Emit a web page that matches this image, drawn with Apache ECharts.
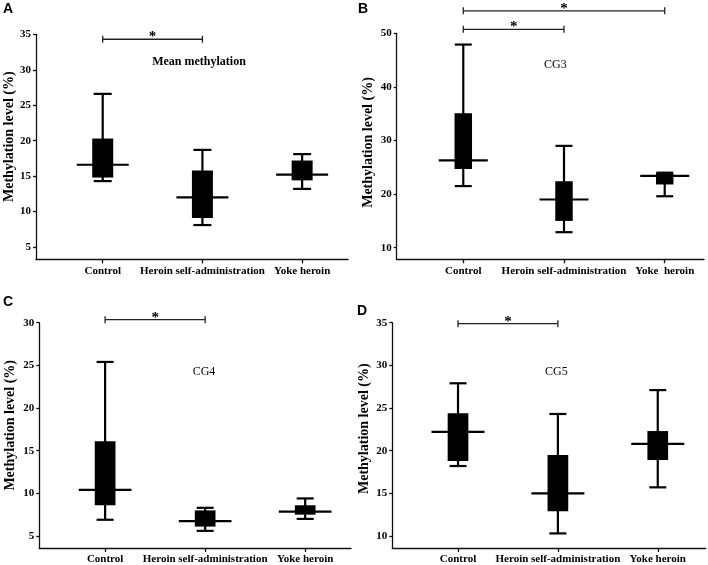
<!DOCTYPE html>
<html><head><meta charset="utf-8">
<script src="https://cdn.jsdelivr.net/npm/echarts@6/dist/echarts.min.js"></script>
<style>html,body{margin:0;padding:0;background:#fff}#c{width:708px;height:565px}</style>
</head><body><div id="c"></div>
<script>
// ---- data ----
const categories = ['Control', 'Heroin self-administration', 'Yoke heroin'];
const categoriesB = ['Control', 'Heroin self-administration', 'Yoke  heroin'];
const catPos = [1, 2, 3];
// [min, Q1, median, Q3, max]
const meanMethylation = [[14.3, 14.8, 16.6, 20.3, 26.6], [8.1, 9.1, 12.0, 15.8, 18.7], [13.2, 14.4, 15.2, 17.2, 18.1]];
const cg3 = [[21.5, 24.7, 26.3, 35.1, 47.9], [12.9, 15.0, 19.0, 22.4, 29.0], [19.6, 21.8, 23.4, 23.9, 24.0]];
const cg4 = [[6.9, 8.6, 10.4, 16.1, 25.4], [5.6, 6.1, 6.75, 8.0, 8.3], [7.0, 7.5, 7.85, 8.6, 9.4]];
const cg5 = [[18.2, 18.8, 22.2, 24.4, 27.9], [10.3, 12.9, 15.0, 19.5, 24.3], [15.7, 18.9, 20.8, 22.3, 27.1]];
const ticksA = [5, 10, 15, 20, 25, 30, 35];
const ticksB = [10, 20, 30, 40, 50];
const ticksC = [5, 10, 15, 20, 25, 30];
const ticksD = [10, 15, 20, 25, 30, 35];
// significance brackets: [from category, to category, level]
const sigA = [[1, 2, 34.3]];
const sigB = [[1, 2, 50.75], [1, 3, 54.2]];
const sigC = [[1, 2, 30.35]];
const sigD = [[1, 2, 34.88]];
const panelTitles = ['Mean methylation', 'CG3', 'CG4', 'CG5'];
const panelLetters = ['A', 'B', 'C', 'D'];
const yName = 'Methylation level (%)';

// ---- chart ----
const SERIF = '"Liberation Serif","Times New Roman",serif';
const SANS = '"Liberation Sans",Arial,sans-serif';
const chart = echarts.init(document.getElementById('c'));

const panels = [
  {grid: {left: 36, right: 360, top: 34.3, bottom: 305.5}, ymin: 3.24, ymax: 35, xmin: 0.331, xmax: 3.46, ticks: ticksA, data: meanMethylation, sig: sigA, cats: categories, boxW: 21, medW: 52, capW: 18},
  {grid: {left: 396.7, right: 4, top: 33.3, bottom: 305.7}, ymin: 7.84, ymax: 50, xmin: 0.339, xmax: 3.39, ticks: ticksB, data: cg3, sig: sigB, cats: categoriesB, boxW: 17.5, medW: 49, capW: 17},
  {grid: {left: 39.3, right: 357, top: 322.7, bottom: 17}, ymin: 3.59, ymax: 30, xmin: 0.342, xmax: 3.458, ticks: ticksC, data: cg4, sig: sigC, cats: categories, boxW: 20.7, medW: 52.7, capW: 17},
  {grid: {left: 392.3, right: 2.3, top: 322.7, bottom: 17}, ymin: 8.59, ymax: 35, xmin: 0.342, xmax: 3.48, ticks: ticksD, data: cg5, sig: sigD, cats: categories, boxW: 20.7, medW: 53, capW: 17}
];

const axisLineStyle = {color: '#111', width: 1.3};
const grids = [], xAxes = [], yAxes = [], series = [];
panels.forEach((p, i) => {
  grids.push(Object.assign({containLabel: false}, p.grid));
  xAxes.push({
    gridIndex: i, type: 'value', min: p.xmin, max: p.xmax,
    axisLine: {show: true, onZero: false, lineStyle: axisLineStyle},
    splitLine: {show: false},
    axisTick: {show: true, customValues: catPos, length: 4, lineStyle: axisLineStyle},
    axisLabel: {customValues: catPos, formatter: v => p.cats[Math.round(v) - 1], fontFamily: SERIF, fontWeight: 'bold', fontSize: 11, color: '#000', margin: 6}
  });
  yAxes.push({
    gridIndex: i, type: 'value', min: p.ymin, max: p.ymax,
    axisLine: {show: true, onZero: false, lineStyle: axisLineStyle},
    splitLine: {show: false},
    axisTick: {show: true, customValues: p.ticks, length: 3, lineStyle: axisLineStyle},
    axisLabel: {customValues: p.ticks, fontFamily: SERIF, fontWeight: 'bold', fontSize: 11, color: '#000', margin: 5}
  });
  const boxData = p.data.map((d, k) => [catPos[k]].concat(d));
  series.push({
    type: 'custom', xAxisIndex: i, yAxisIndex: i, clip: false,
    data: boxData,
    encode: {x: 0, y: [1, 2, 3, 4, 5]},
    renderItem: (params, api) => {
      const x = api.value(0);
      const lo = api.coord([x, api.value(1)]);
      const q1 = api.coord([x, api.value(2)]);
      const md = api.coord([x, api.value(3)]);
      const q3 = api.coord([x, api.value(4)]);
      const hi = api.coord([x, api.value(5)]);
      const cx = lo[0];
      const st = {stroke: '#000', lineWidth: 2.2};
      return {type: 'group', children: [
        {type: 'line', shape: {x1: cx, y1: hi[1], x2: cx, y2: lo[1]}, style: st},
        {type: 'line', shape: {x1: cx - p.capW / 2, y1: hi[1], x2: cx + p.capW / 2, y2: hi[1]}, style: st},
        {type: 'line', shape: {x1: cx - p.capW / 2, y1: lo[1], x2: cx + p.capW / 2, y2: lo[1]}, style: st},
        {type: 'rect', shape: {x: cx - p.boxW / 2, y: q3[1], width: p.boxW, height: q1[1] - q3[1]}, style: {fill: '#000'}},
        {type: 'line', shape: {x1: cx - p.medW / 2, y1: md[1], x2: cx + p.medW / 2, y2: md[1]}, style: st}
      ]};
    }
  });
  series.push({
    type: 'custom', xAxisIndex: i, yAxisIndex: i, clip: false, silent: true,
    data: p.sig,
    encode: {x: [0, 1], y: 2},
    renderItem: (params, api) => {
      const a = api.coord([api.value(0), api.value(2)]);
      const b = api.coord([api.value(1), api.value(2)]);
      const st = {stroke: '#222', lineWidth: 1.3};
      return {type: 'group', children: [
        {type: 'line', shape: {x1: a[0], y1: a[1], x2: b[0], y2: b[1]}, style: st},
        {type: 'line', shape: {x1: a[0], y1: a[1] - 3.5, x2: a[0], y2: a[1] + 3.5}, style: st},
        {type: 'line', shape: {x1: b[0], y1: b[1] - 3.5, x2: b[0], y2: b[1] + 3.5}, style: st},
        {type: 'text', x: (a[0] + b[0]) / 2, y: a[1] - 2, style: {text: '*', fontFamily: SERIF, fontWeight: 'bold', fontSize: 15, fill: '#000', align: 'center', verticalAlign: 'middle'}}
      ]};
    }
  });
});

const titlePos = [[199, 62.3, 'bold'], [555.3, 65.3, 'normal'], [204, 372, 'normal'], [556.3, 372, 'normal']];
const letterPos = [[3, 2], [358, 2], [3, 295], [357, 304]];
const namePos = [[9, 136.7], [368, 142.5], [10, 425.3], [364, 428.7]];
const graphic = [];
panels.forEach((p, i) => {
  graphic.push({type: 'text', x: titlePos[i][0], y: titlePos[i][1], style: {text: panelTitles[i], fontFamily: SERIF, fontWeight: titlePos[i][2], fontSize: 12, fill: '#000', align: 'center', verticalAlign: 'middle'}});
  graphic.push({type: 'text', x: letterPos[i][0], y: letterPos[i][1], style: {text: panelLetters[i], fontFamily: SANS, fontWeight: 'bold', fontSize: 14, fill: '#000', align: 'left', verticalAlign: 'top'}});
  graphic.push({type: 'text', x: namePos[i][0], y: namePos[i][1], rotation: Math.PI / 2, style: {text: yName, fontFamily: SERIF, fontWeight: 'bold', fontSize: 14, fill: '#000', align: 'center', verticalAlign: 'middle'}});
});

chart.setOption({
  animation: false,
  backgroundColor: '#fff',
  grid: grids, xAxis: xAxes, yAxis: yAxes, series: series, graphic: graphic
});
</script></body></html>
